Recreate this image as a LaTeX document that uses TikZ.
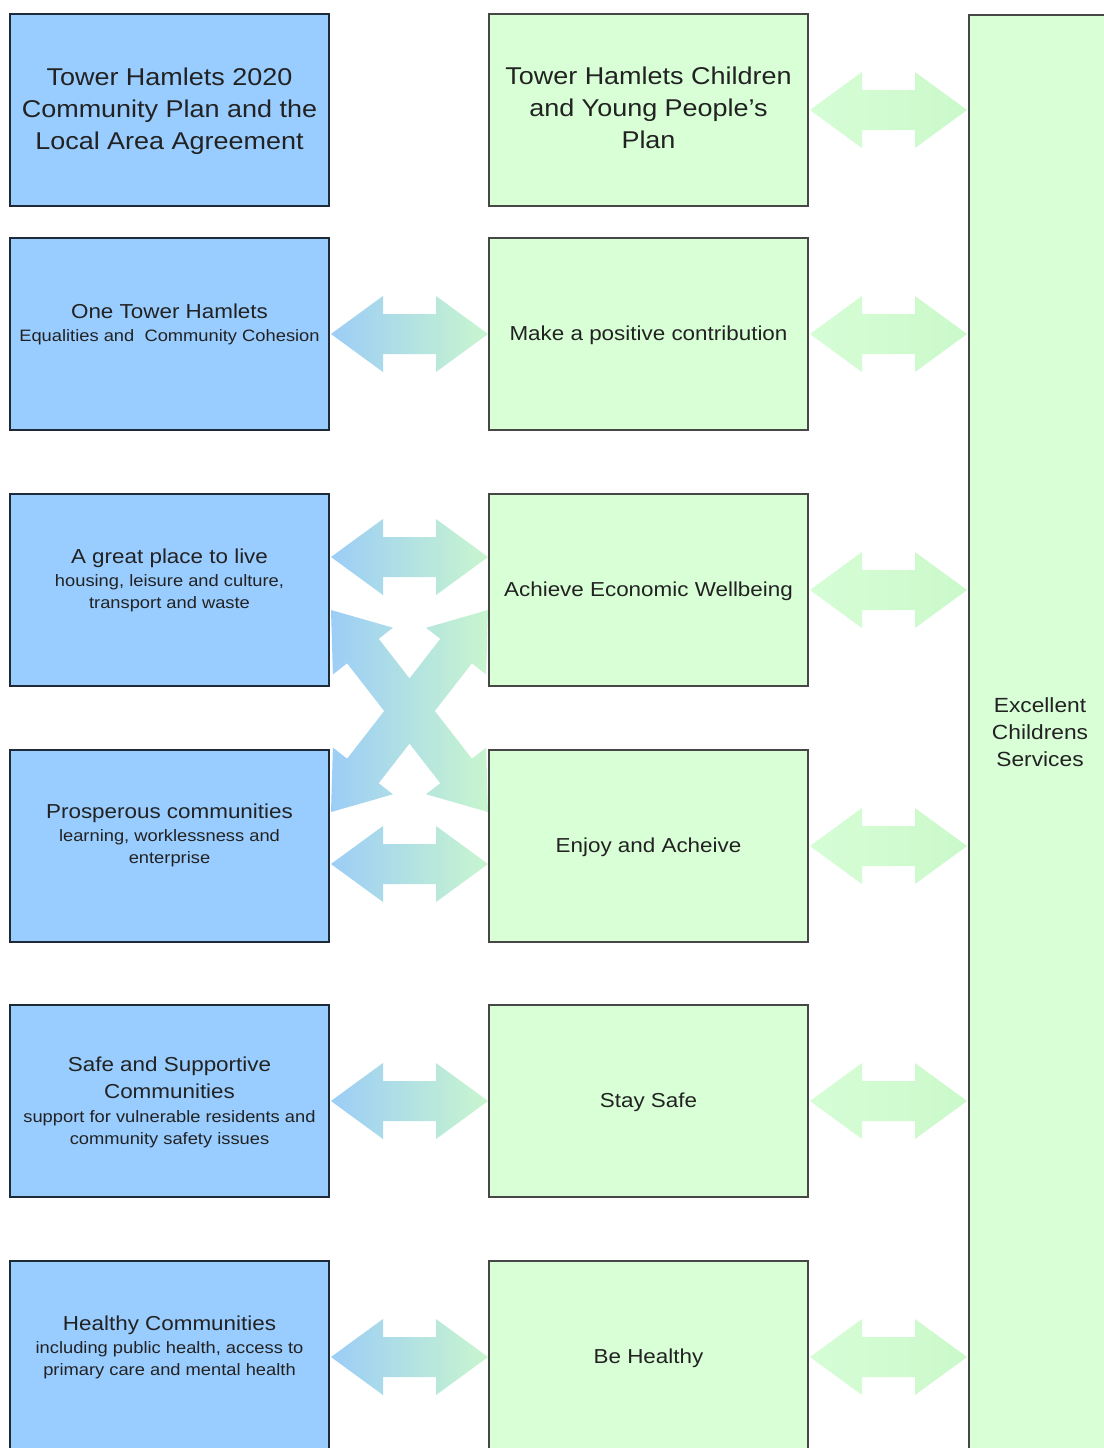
\documentclass[tikz,border=0pt]{standalone}
\usepackage{fontspec}
\setmainfont[FakeStretch=1.11]{Liberation Sans}
\definecolor{bfill}{HTML}{99CCFF}
\definecolor{gfill}{HTML}{D9FFD7}
\definecolor{bline}{HTML}{1E2A36}
\definecolor{gline}{HTML}{474747}
\definecolor{txt}{HTML}{222222}
\definecolor{arB}{HTML}{9CCDF6}
\definecolor{arG}{HTML}{C8F6CE}
\definecolor{arL}{HTML}{D6FDD6}
\definecolor{arR}{HTML}{CBF9CB}
\newcommand\hdf{\fontsize{20.2}{24}\selectfont}
\newcommand\ttf{\fontsize{24.3}{32}\selectfont}
\newcommand\harrow[4]{%
  \path[#4] ({#1},{#3}) -- ({#1+52},{#3-38}) -- ({#1+52},{#3-20}) -- ({#2-52},{#3-20})
   -- ({#2-52},{#3-38}) -- ({#2},{#3}) -- ({#2-52},{#3+38}) -- ({#2-52},{#3+20})
   -- ({#1+52},{#3+20}) -- ({#1+52},{#3+38}) -- cycle;}
\begin{document}
\begin{tikzpicture}[x=1pt,y=-1pt,
  lbox/.style={draw=bline,fill=bfill,line width=1.4pt,minimum width=319pt,minimum height=192pt,inner sep=0pt},
  gbox/.style={draw=gline,fill=gfill,line width=1.4pt,minimum width=319pt,minimum height=192pt,inner sep=0pt},
  bigbox/.style={draw=gline,fill=gfill,line width=1.6pt,minimum width=150pt,minimum height=1460pt,inner sep=0pt},
  lab/.style={text=txt,align=center,inner sep=0pt,font=\fontsize{16.5}{22}\selectfont},
  ttl/.style={text=txt,align=center,inner sep=0pt,font=\ttf},
  hd/.style={text=txt,align=center,inner sep=0pt,font=\hdf},
  bgarrow/.style={left color=arB,right color=arG,draw=none},
  grarrow/.style={left color=arL,right color=arR,draw=none}]
\useasboundingbox (0,0) rectangle (1103,1448);
\fill[white] (0,0) rectangle (1103,1448);

% connectors: blue-green arrows
\harrow{331}{488}{334}{bgarrow}
\harrow{331}{488}{557}{bgarrow}
\harrow{331}{488}{864}{bgarrow}
\harrow{331}{488}{1101}{bgarrow}
\harrow{331}{488}{1357}{bgarrow}
% diagonal arrows
\path[bgarrow] (331,610) -- (332.9,674.4) -- (347.1,663.3) -- (440.3,783.2) -- (426.1,794.2)
  -- (488,812) -- (486.1,747.6) -- (471.9,758.7) -- (378.7,638.8) -- (392.9,627.7) -- cycle;
\path[bgarrow] (331,812) -- (332.9,747.6) -- (347.1,758.7) -- (440.3,638.8) -- (426.1,627.8)
  -- (488,610) -- (486.1,674.4) -- (471.9,663.3) -- (378.7,783.2) -- (392.9,794.3) -- cycle;
% green arrows
\harrow{810}{967}{110}{grarrow}
\harrow{810}{967}{334}{grarrow}
\harrow{810}{967}{590}{grarrow}
\harrow{810}{967}{846}{grarrow}
\harrow{810}{967}{1101}{grarrow}
\harrow{810}{967}{1357}{grarrow}

% boxes
\node[lbox] (L1) at (169.5,110) {};
\node[lbox] (L2) at (169.5,334) {};
\node[lbox] (L3) at (169.5,590) {};
\node[lbox] (L4) at (169.5,846) {};
\node[lbox] (L5) at (169.5,1101) {};
\node[lbox] (L6) at (169.5,1357) {};
\node[gbox] (G1) at (648.5,110) {};
\node[gbox] (G2) at (648.5,334) {};
\node[gbox] (G3) at (648.5,590) {};
\node[gbox] (G4) at (648.5,846) {};
\node[gbox] (G5) at (648.5,1101) {};
\node[gbox] (G6) at (648.5,1357) {};
\node[bigbox,anchor=north west] (R) at (968,14) {};

% texts
\node[ttl] (tL1) at (169.5,111) {Tower Hamlets 2020\\Community Plan and the\\Local Area Agreement};
\node[ttl] (tG1) at (648.5,108) {Tower Hamlets Children\\and Young People’s\\Plan};
\node[lab] (tL2) at (169.5,324) {{\hdf One Tower Hamlets}\\[1pt]Equalities and\ \ Community Cohesion};
\node[lab] (tL3) at (169.5,580) {{\hdf A great place to live}\\[1pt]housing, leisure and culture,\\transport and waste};
\node[lab] (tL4) at (169.5,835.5) {{\hdf Prosperous communities}\\[1pt]learning, worklessness and\\enterprise};
\node[lab] (tL5) at (169.5,1102) {{\hdf Safe and Supportive}\\[5pt]{\hdf Communities}\\[2pt]support for vulnerable residents and\\community safety issues};
\node[lab] (tL6) at (169.5,1347) {{\hdf Healthy Communities}\\[1pt]including public health, access to\\primary care and mental health};
\node[hd] (tG2) at (648.5,335) {Make a positive contribution};
\node[hd] (tG3) at (648.5,591) {Achieve Economic Wellbeing};
\node[hd] (tG4) at (648.5,847) {Enjoy and Acheive};
\node[hd] (tG5) at (648.5,1102) {Stay Safe};
\node[hd] (tG6) at (648.5,1358) {Be Healthy};
\node[text=txt,align=center,inner sep=0pt,font=\fontsize{20.5}{27}\selectfont] (tR) at (1040,732) {Excellent\\Childrens\\Services};
\end{tikzpicture}
\end{document}
